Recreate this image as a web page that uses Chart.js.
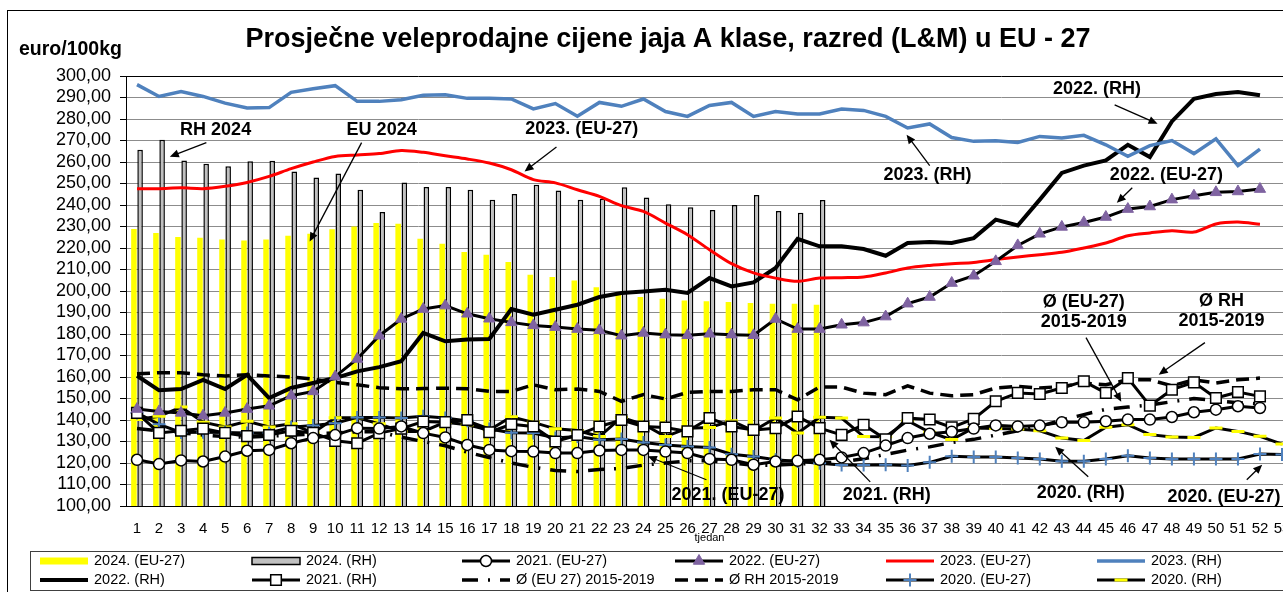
<!DOCTYPE html>
<html>
<head>
<meta charset="utf-8">
<title>Prosječne veleprodajne cijene jaja A klase</title>
<script src="https://cdn.jsdelivr.net/npm/chart.js@4.4.1/dist/chart.umd.min.js"></script>
<style>
  html, body { margin: 0; padding: 0; background: #fff; overflow: hidden; }
  #wrap { position: relative; width: 1310px; height: 592px; }
</style>
</head>
<body>
<div id="wrap"><canvas id="chart" width="1310" height="592"></canvas></div>
<script>
const FONT = '"Liberation Sans", Arial, sans-serif';

// tjedni (x os)
const weeks = ['1','2','3','4','5','6','7','8','9','10','11','12','13','14','15','16','17','18','19','20',
  '21','22','23','24','25','26','27','28','29','30','31','32','33','34','35','36','37','38','39','40',
  '41','42','43','44','45','46','47','48','49','50','51','52','53'];

// 2024 - stupci
const eu2024 = [228.8, 227.0, 225.1, 224.8, 223.9, 223.5, 223.9, 225.7, 226.6, 228.7, 230.0, 231.6, 231.3, 224.3, 222.0, 218.1,
  216.9, 213.5, 207.6, 206.5, 204.9, 201.8, 199.5, 197.2, 196.4, 195.6, 195.2, 194.9, 194.4, 194.1, 194.1, 193.6];
const rh2024 = [265.7, 270.4, 260.7, 259.2, 258.0, 260.3, 260.6, 255.6, 252.8, 254.6, 247.1, 236.7, 250.5, 248.4, 248.4, 247.1,
  242.5, 245.1, 249.4, 246.7, 242.4, 242.9, 248.2, 243.5, 240.4, 238.9, 237.7, 240.0, 244.6, 237.2, 236.4, 242.3];

// linije
const eu2021 = [121.5, 119.5, 121.2, 120.7, 123.0, 125.7, 126.1, 129.2, 131.6, 133.0, 136.2, 136.0, 137.0, 133.9, 131.9, 128.4,
  126.1, 125.5, 125.3, 124.6, 124.6, 125.8, 126.1, 126.1, 125.3, 124.6, 121.9, 121.5, 119.2, 120.7, 121.0, 121.5,
  122.6, 124.6, 128.1, 131.6, 133.6, 134.5, 136.0, 137.5, 137.0, 137.4, 138.9, 138.9, 139.4, 140.2, 140.2, 141.4,
  143.6, 144.8, 146.4, 145.6];
const eu2022 = [145.1, 144.0, 143.3, 142.0, 143.3, 145.1, 146.6, 151.3, 153.3, 160.2, 168.4, 179.2, 187.0, 191.6, 193.2, 189.4,
  187.1, 185.4, 184.0, 183.2, 182.3, 181.7, 179.2, 180.5, 179.7, 179.4, 180.1, 179.7, 179.4, 187.0, 182.3, 182.3,
  184.3, 185.3, 188.1, 194.1, 197.2, 203.7, 207.1, 213.8, 221.2, 226.6, 229.8, 231.9, 234.4, 238.1, 239.3, 242.5,
  244.3, 245.9, 246.3, 247.4];
const eu2023 = [247.6, 247.6, 248.0, 247.6, 248.7, 250.5, 253.3, 256.9, 260.0, 262.6, 263.3, 263.9, 265.4, 264.5, 262.9, 261.4,
  259.5, 256.4, 251.8, 250.3, 247.1, 244.0, 239.7, 237.0, 231.6, 226.2, 219.2, 212.7, 208.4, 206.0, 204.5, 206.0,
  206.2, 206.5, 208.4, 210.7, 211.9, 212.7, 213.3, 214.6, 215.8, 216.9, 218.0, 220.0, 222.3, 225.7, 227.0, 228.0,
  227.4, 231.2, 232.1, 231.0];
const rh2023 = [296.0, 290.5, 292.8, 290.5, 287.4, 285.1, 285.3, 292.4, 294.1, 295.5, 288.2, 288.2, 289.0, 291.0, 291.3, 289.6,
  289.6, 289.3, 284.7, 287.2, 281.3, 287.7, 285.9, 289.3, 283.5, 281.2, 286.3, 287.7, 281.2, 283.5, 282.3, 282.3,
  284.6, 284.0, 281.2, 275.8, 277.7, 271.4, 269.6, 269.9, 269.1, 271.9, 271.2, 272.4, 268.0, 262.6, 267.6, 270.0,
  263.9, 270.8, 258.3, 266.0];
const rh2022 = [160.6, 153.8, 154.4, 158.7, 154.4, 161.0, 150.2, 154.9, 157.2, 159.5, 162.6, 164.6, 167.3, 180.5, 176.6, 177.4,
  177.7, 191.6, 189.0, 191.3, 193.6, 197.2, 199.1, 199.8, 200.6, 199.1, 206.0, 202.1, 204.0, 210.7, 224.3, 220.8,
  220.8, 219.5, 216.4, 222.3, 222.8, 222.3, 224.6, 233.2, 230.5, 242.5, 254.9, 258.3, 260.7, 268.0, 262.3, 278.9,
  289.4, 291.6, 292.6, 291.0];
const rh2021 = [143.3, 134.0, 135.0, 136.0, 134.0, 132.5, 133.0, 135.0, 134.0, 130.3, 129.2, 133.9, 136.0, 139.3, 139.0, 140.0,
  134.3, 138.0, 137.0, 130.0, 133.0, 137.0, 140.0, 137.0, 136.5, 134.7, 140.9, 137.0, 135.4, 136.2, 141.6, 136.2,
  133.1, 137.8, 131.0, 140.9, 140.2, 136.6, 140.5, 148.7, 152.6, 152.1, 154.9, 158.0, 152.6, 159.5, 146.7, 154.1,
  157.5, 150.2, 153.0, 151.0];
const avgEu = [136.0, 135.0, 134.0, 133.0, 132.3, 132.0, 132.5, 133.0, 133.5, 134.0, 134.5, 134.5, 132.0, 130.0, 128.0, 125.0,
  122.5, 120.0, 118.0, 116.5, 116.0, 117.0, 117.5, 119.0, 120.0, 121.0, 121.0, 120.0, 119.0, 119.0, 119.5, 120.0,
  120.5, 122.0, 124.0, 126.0, 127.5, 129.5, 131.0, 133.0, 135.0, 137.0, 140.0, 142.5, 145.0, 146.0, 147.0, 148.5,
  150.0, 149.0, 148.0, 147.5];
const avgRh = [161.5, 162.0, 162.0, 161.0, 160.5, 161.0, 160.5, 160.0, 159.0, 157.5, 156.4, 155.0, 154.5, 154.6, 154.8, 154.5,
  153.3, 153.3, 156.4, 154.1, 154.4, 153.3, 148.7, 151.8, 149.8, 152.8, 153.3, 153.3, 154.1, 154.1, 149.4, 155.3,
  155.3, 152.5, 151.8, 155.9, 152.5, 151.3, 151.8, 154.9, 155.6, 154.9, 155.6, 157.2, 156.4, 158.7, 158.7, 155.9,
  158.7, 157.2, 158.7, 159.5];
const eu2020 = [143.3, 138.0, 134.2, 134.3, 134.2, 134.0, 134.0, 136.6, 137.5, 138.5, 141.2, 141.2, 140.9, 141.7, 140.9, 139.6,
  135.8, 134.1, 133.9, 131.6, 132.3, 130.8, 131.2, 129.5, 128.4, 127.7, 127.2, 124.1, 123.0, 121.5, 120.7, 119.9,
  119.1, 119.1, 119.2, 118.8, 120.3, 123.1, 122.8, 122.8, 122.3, 121.9, 120.8, 120.8, 121.9, 123.4, 122.3, 121.9,
  121.9, 121.9, 121.9, 124.2, 123.9];
const rh2020 = [140.2, 141.7, 146.0, 139.0, 136.8, 139.4, 136.8, 138.2, 134.0, 141.0, 141.0, 138.2, 134.7, 134.7, 139.0, 137.8,
  135.3, 141.5, 138.9, 135.9, 135.1, 132.3, 141.2, 138.0, 132.3, 136.2, 136.5, 139.6, 135.0, 140.9, 133.9, 141.3,
  140.9, 132.3, 132.2, 139.7, 134.3, 130.9, 136.3, 136.0, 135.8, 135.0, 131.6, 130.5, 136.6, 137.8, 133.2, 132.1,
  131.9, 136.3, 134.7, 132.4, 128.8];

// natpisi sa strelicama (tjedan, vrijednost)
const notes = [
  { lines: ['RH 2024'], at: [4.57, 275], align: 'center', from: [4.15, 269], to: [2.49, 262.5] },
  { lines: ['EU 2024'], at: [12.11, 275], align: 'center', from: [11.2, 269], to: [8.84, 223] },
  { lines: ['2023. (EU-27)'], at: [21.2, 275.3], align: 'center', from: [20.05, 267], to: [18.6, 255.6] },
  { lines: ['2023. (RH)'], at: [36.9, 254.1], align: 'center', from: [37.0, 258.3], to: [35.95, 272.7] },
  { lines: ['2022. (RH)'], at: [44.6, 294.1], align: 'center', from: [45.4, 286.6], to: [47.35, 277.8] },
  { lines: ['2022. (EU-27)'], at: [47.75, 254.1], align: 'center', from: [46.2, 248], to: [45.5, 241] },
  { lines: ['Ø (EU-27)', '2015-2019'], at: [44.0, 194.7], align: 'center', from: [44.1, 178.3], to: [45.7, 148.5] },
  { lines: ['Ø RH', '2015-2019'], at: [50.25, 195.2], align: 'center', from: [49.5, 176], to: [47.4, 161.1] },
  { lines: ['2020. (RH)'], at: [43.86, 106.2], align: 'center', from: [44.2, 113.6], to: [42.7, 127.6] },
  { lines: ['2020. (EU-27)'], at: [47.8, 104], align: 'left', from: [51.4, 112.2], to: [52.1, 119.2] },
  { lines: ['2021. (RH)'], at: [33.05, 105.3], align: 'left', from: [34.3, 111.2], to: [32.45, 130.8] },
  { lines: ['2021. (EU-27)'], at: [25.27, 105.3], align: 'left', from: [26.86, 112.2], to: [24.2, 123.1] }
];

function lineSet(label, data, extra) {
  return Object.assign({
    type: 'line', label, data,
    borderColor: '#000', borderWidth: 3, tension: 0,
    pointRadius: 0, pointHoverRadius: 0, fill: false, order: 1
  }, extra);
}

const datasets = [
  { type: 'bar', label: '2024. (EU-27)', data: eu2024, backgroundColor: '#FFFF00', borderWidth: 0,
    categoryPercentage: 0.56, barPercentage: 0.9, order: 20 },
  { type: 'bar', label: '2024. (RH)', data: rh2024, backgroundColor: '#C0C0C0', borderColor: '#000', borderWidth: 1.5,
    categoryPercentage: 0.56, barPercentage: 0.9, order: 20 },
  lineSet('2021. (EU-27)', eu2021, { pointStyle: 'circle', pointRadius: 5.5, pointBackgroundColor: '#fff',
    pointBorderColor: '#000', pointBorderWidth: 1.5 }),
  lineSet('2022. (EU-27)', eu2022, { pointStyle: 'triangle', pointRadius: 6.5, pointBackgroundColor: '#7F63A1',
    pointBorderColor: '#7F63A1', pointBorderWidth: 1 }),
  lineSet('2023. (EU-27)', eu2023, { borderColor: '#FF0000', tension: 0.3 }),
  lineSet('2023. (RH)', rh2023, { borderColor: '#4F81BD', borderWidth: 3.5 }),
  lineSet('2022. (RH)', rh2022, { borderWidth: 4 }),
  lineSet('2021. (RH)', rh2021, { pointStyle: 'rect', pointRadius: 7.5, pointBackgroundColor: '#fff',
    pointBorderColor: '#000', pointBorderWidth: 1.5 }),
  lineSet('Ø (EU 27) 2015-2019', avgEu, { borderDash: [16, 10, 2, 10], borderWidth: 3.5, order: 2 }),
  lineSet('Ø RH 2015-2019', avgRh, { borderDash: [13, 7], borderWidth: 3.5, order: 2 }),
  lineSet('2020. (EU-27)', eu2020, { pointStyle: 'cross', pointRadius: 6.5, pointBorderColor: '#4F81BD',
    pointBorderWidth: 2 }),
  lineSet('2020. (RH)', rh2020, { pointStyle: 'line', pointRadius: 6.5, pointBorderColor: '#FFFF00',
    pointBorderWidth: 3 })
];

// oznaka tocke (za legendu)
function marker(ctx, ds, x, y) {
  const style = ds.pointStyle;
  if (!style || !ds.pointRadius) return;
  const r = ds.pointRadius;
  ctx.save();
  ctx.setLineDash([]);
  ctx.fillStyle = ds.pointBackgroundColor || '#000';
  ctx.strokeStyle = ds.pointBorderColor || '#000';
  ctx.lineWidth = ds.pointBorderWidth || 1;
  ctx.beginPath();
  if (style === 'circle') {
    ctx.arc(x, y, r, 0, Math.PI * 2); ctx.fill(); ctx.stroke();
  } else if (style === 'rect') {
    const s = r * Math.SQRT1_2;
    ctx.rect(x - s, y - s, 2 * s, 2 * s); ctx.fill(); ctx.stroke();
  } else if (style === 'triangle') {
    ctx.moveTo(x, y - r);
    ctx.lineTo(x + r * 0.866, y + r * 0.5);
    ctx.lineTo(x - r * 0.866, y + r * 0.5);
    ctx.closePath(); ctx.fill(); ctx.stroke();
  } else if (style === 'cross') {
    ctx.moveTo(x - r, y); ctx.lineTo(x + r, y);
    ctx.moveTo(x, y - r); ctx.lineTo(x, y + r); ctx.stroke();
  } else if (style === 'line') {
    ctx.moveTo(x - r, y); ctx.lineTo(x + r, y); ctx.stroke();
  }
  ctx.restore();
}

function arrow(ctx, x1, y1, x2, y2) {
  const a = Math.atan2(y2 - y1, x2 - x1);
  const len = 9, w = 4;
  ctx.beginPath();
  ctx.moveTo(x1, y1);
  ctx.lineTo(x2 - Math.cos(a) * len * 0.8, y2 - Math.sin(a) * len * 0.8);
  ctx.stroke();
  ctx.beginPath();
  ctx.moveTo(x2, y2);
  ctx.lineTo(x2 - Math.cos(a) * len + Math.sin(a) * w, y2 - Math.sin(a) * len - Math.cos(a) * w);
  ctx.lineTo(x2 - Math.cos(a) * len - Math.sin(a) * w, y2 - Math.sin(a) * len + Math.cos(a) * w);
  ctx.closePath();
  ctx.fill();
}

const decorations = {
  id: 'decorations',
  beforeDraw(chart) {
    const ctx = chart.ctx;
    ctx.save();
    ctx.fillStyle = '#fff';
    ctx.fillRect(0, 0, chart.width, chart.height);
    ctx.restore();
  },
  afterDatasetsDraw(chart) {
    const ctx = chart.ctx;
    const xs = chart.scales.x, ys = chart.scales.y;
    const px = w => xs.getPixelForValue(w - 1);
    const py = v => ys.getPixelForValue(v);
    ctx.save();
    ctx.fillStyle = '#000';
    ctx.strokeStyle = '#000';
    ctx.lineWidth = 1.3;
    ctx.font = 'bold 18px ' + FONT;
    ctx.textBaseline = 'middle';
    notes.forEach(n => {
      ctx.textAlign = n.align;
      n.lines.forEach((t, i) => ctx.fillText(t, px(n.at[0]), py(n.at[1]) + i * 20));
      arrow(ctx, px(n.from[0]), py(n.from[1]), px(n.to[0]), py(n.to[1]));
    });
    ctx.restore();
  },
  afterDraw(chart) {
    const ctx = chart.ctx;
    const area = chart.chartArea;
    ctx.save();
    // okviri
    ctx.strokeStyle = '#000';
    ctx.lineWidth = 1;
    ctx.strokeRect(7.5, 10.5, 1400, 700);
    ctx.strokeStyle = '#404040';
    ctx.strokeRect(30.5, 551.5, 1400, 39);

    // naslov
    ctx.fillStyle = '#000';
    ctx.textBaseline = 'middle';
    ctx.textAlign = 'center';
    ctx.font = 'bold 27px ' + FONT;
    ctx.fillText('Prosječne veleprodajne cijene jaja A klase, razred (L&M) u EU - 27', 668, 40);
    ctx.textAlign = 'left';
    ctx.font = 'bold 19.5px ' + FONT;
    ctx.fillText('euro/100kg', 19, 50);
    ctx.textAlign = 'center';
    ctx.font = '11px ' + FONT;
    ctx.fillText('tjedan', (area.left + area.right) / 2, 538);

    // legenda
    const colX = [40, 252, 462, 675, 886, 1097];
    const rowY = [561, 580];
    ctx.font = '14.5px ' + FONT;
    ctx.textAlign = 'left';
    chart.data.datasets.forEach((ds, i) => {
      const x = colX[i % 6], y = rowY[Math.floor(i / 6)];
      ctx.save();
      if (ds.type === 'bar') {
        ctx.fillStyle = ds.backgroundColor;
        ctx.fillRect(x, y - 3.5, 48, 7);
        if (ds.borderWidth) {
          ctx.strokeStyle = ds.borderColor;
          ctx.lineWidth = 1.5;
          ctx.strokeRect(x, y - 3.5, 48, 7);
        }
      } else {
        ctx.strokeStyle = ds.borderColor;
        ctx.lineWidth = ds.borderWidth;
        ctx.setLineDash(ds.borderDash || []);
        ctx.beginPath();
        ctx.moveTo(x, y);
        ctx.lineTo(x + 48, y);
        ctx.stroke();
        marker(ctx, ds, x + 24, y);
      }
      ctx.restore();
      ctx.fillStyle = '#000';
      ctx.fillText(ds.label, x + 54, y);
    });
    ctx.restore();
  }
};

new Chart(document.getElementById('chart'), {
  type: 'bar',
  data: { labels: weeks, datasets },
  options: {
    responsive: false,
    animation: false,
    events: [],
    layout: { padding: { top: 76, right: 17, bottom: 0, left: 0 } },
    plugins: { legend: { display: false }, tooltip: { enabled: false }, title: { display: false } },
    scales: {
      x: {
        offset: true,
        grid: { display: false },
        border: { display: true, color: '#000', width: 1 },
        ticks: { autoSkip: false, maxRotation: 0, minRotation: 0, padding: 6, color: '#000',
          font: { family: FONT, size: 15 } },
        afterFit(scale) { scale.height = 86; }
      },
      y: {
        min: 100, max: 300,
        grid: { color: ctx => (ctx.tick && ctx.tick.value === 300 ? '#000' : '#8C8C8C'), lineWidth: 1,
          drawTicks: true, tickLength: 6, tickColor: '#000' },
        border: { display: true, color: '#000', width: 1 },
        ticks: { stepSize: 10, autoSkip: false, padding: 9, color: '#000', font: { family: FONT, size: 18 },
          callback: v => v.toFixed(2).replace('.', ',') },
        afterFit(scale) { scale.width = 126; }
      }
    }
  },
  plugins: [decorations]
});
</script>
</body>
</html>
